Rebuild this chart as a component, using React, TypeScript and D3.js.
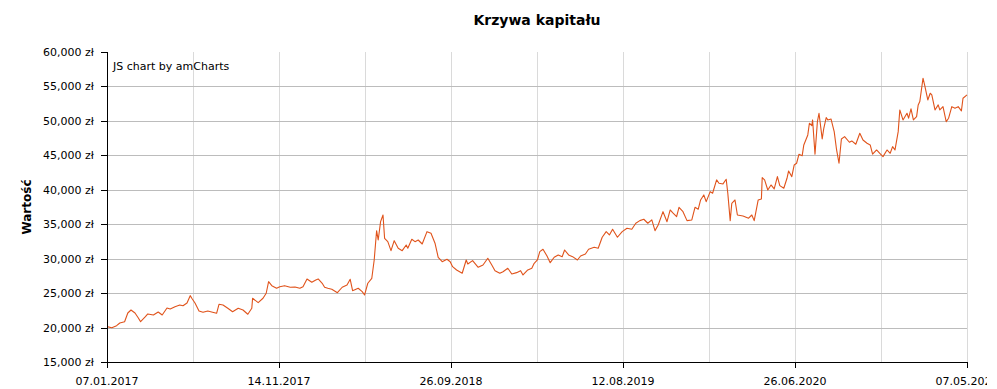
import React from "react";
import * as d3 from "d3";

const title = "Krzywa kapitału";
const yAxisTitle = "Wartość";
const credit = "JS chart by amCharts";

const xTickLabels = ["07.01.2017", "14.11.2017", "26.09.2018", "12.08.2019", "26.06.2020", "07.05.2021"];
const xTickSessions = [0, 215, 430, 645, 860, 1075];
const xGridSessions = [107.5, 215, 322.5, 430, 537.5, 645, 752.5, 860, 967.5, 1075];
const yTicks = [15000, 20000, 25000, 30000, 35000, 40000, 45000, 50000, 55000, 60000];

const sessions = [
  0, 6, 12, 16, 22, 26, 30, 35, 39, 42, 48, 51, 58, 64, 69, 75, 79, 85, 91, 95,
  100, 104, 106, 110, 115, 120, 126, 132, 137, 140, 145, 151, 157, 164, 170, 176, 181, 182, 189, 195,
  199, 202, 206, 212, 216, 222, 229, 235, 241, 245, 250, 256, 261,
  264, 269, 272, 276, 281, 288, 294, 300, 304, 307, 314, 319, 322, 326, 331, 334, 337, 339, 342, 345,
  347, 351, 355, 359, 364, 369, 374, 376, 381, 385, 389, 394, 400, 405, 410, 414, 419, 425, 429, 432,
  437, 444, 449, 451, 457, 464, 470, 476, 481, 485, 491, 495, 501, 506, 512, 517, 520, 526, 531, 534,
  538, 541, 545, 550, 554, 559, 564, 569, 572, 577, 582, 588, 592, 598, 602, 609, 614, 619, 624, 628,
  632, 638, 644, 650, 656, 661, 666, 671, 676, 681, 685, 689, 695, 700, 704, 707, 712, 715, 720, 725,
  731, 735, 739, 742, 746, 749, 754, 757, 762, 765, 770, 774, 776, 779, 781, 785, 788, 795, 802,
  806, 809, 814, 818, 819, 822, 826, 830, 834, 838, 841, 846, 850, 852, 856, 859, 862, 865, 869, 871,
  876, 878, 881, 882, 885, 888, 890, 894, 896, 899, 901, 905, 909, 912, 915, 918, 922, 928, 931, 936,
  941, 945, 950, 954, 957, 962, 966, 970, 975, 979, 982, 985, 989, 991, 995, 1000, 1002, 1005, 1008, 1012,
  1014, 1016, 1020, 1022, 1026, 1029, 1031, 1035, 1039, 1041, 1045, 1049, 1052, 1056, 1060, 1064, 1068, 1070, 1075,
];

const equity = [
  20130, 19980, 20270, 20660, 20850, 22110, 22550, 22110, 21430, 20850, 21580, 21970, 21820, 22260, 21820, 22840, 22700, 23030, 23280, 23170,
  23570, 24630, 24250, 23570, 22400, 22220, 22400, 22220, 22070, 23380, 23280, 22800, 22300, 22800, 22550, 21930, 22800, 24250, 23610, 24250,
  24980, 26660, 26080, 25700, 25930, 26080, 25850, 25890, 25700, 25930, 27050, 26570, 26910,
  27050, 26430, 25850, 25700, 25560, 25060, 25850, 26180, 27010, 25350, 25700, 25210, 24730, 26430, 27150, 29810, 34060, 32710, 35370, 36340,
  32960, 32470, 31160, 32610, 31510, 31160, 31990, 31510, 32820, 32470, 32710, 32130, 33920, 33690, 32240, 30200, 29560, 29910, 29560, 28840,
  28360, 27880, 29810, 29230, 29710, 28750, 29080, 30060, 29080, 28260, 27880, 28110, 28610, 27780, 27970, 28260, 27630, 28360, 28610, 29330,
  29810, 31020, 31360, 30390, 29420, 30200, 30540, 30290, 31260, 30540, 30290, 29810, 30390, 30680, 31360, 31650, 31510, 33110, 33920, 33440,
  34270, 33110, 33920, 34410, 34270, 35140, 35520, 35720, 35140, 35620, 34070, 34890, 36820, 35370, 37070, 36680, 36100, 37460, 36820, 35520,
  35620, 37460, 37170, 38520, 39250, 38280, 39730, 39500, 41430, 40950, 40850, 41530, 39500, 35520, 38040, 38520, 36340, 36200, 35870,
  36340, 35520, 38520, 38670, 41760, 41430, 39970, 40700, 40120, 41910, 40600, 40220, 41670, 42730, 41910, 43600, 43850, 45160, 44950, 46510,
  47960, 49660, 49310, 50140, 45160, 49890, 51110, 47380, 48930, 50470, 50140, 50280, 48440, 45780, 43850, 47380, 47710, 46900, 47090, 46610,
  48210, 47230, 46760, 46510, 45160, 45780, 45300, 44810, 45780, 45300, 46260, 45780, 48440, 51590, 50140, 51110, 50390, 51740, 50140, 50620,
  52320, 52800, 56190, 55220, 53040, 54020, 53770, 51590, 52320, 51590, 52070, 49890, 50390, 52070, 51840, 52070, 51450, 53290, 53770,
];

const W = 987;
const H = 389;
const plot = { left: 107, right: 967, top: 52, bottom: 362 };
const font = "Verdana, 'DejaVu Sans', sans-serif";

export default function App() {
  const x = d3.scaleLinear().domain([0, 1075]).range([plot.left, plot.right]);
  const y = d3.scaleLinear().domain([15000, 60000]).range([plot.bottom, plot.top]);
  const pts: [number, number][] = sessions.map((s, i) => [s, equity[i]]);
  const path = d3
    .line<[number, number]>()
    .x((d) => x(d[0]))
    .y((d) => y(d[1]))(pts) as string;
  const fmt = d3.format(",");

  return (
    <svg
      width={W}
      height={H}
      style={{ position: "absolute", left: 0, top: 0, overflow: "hidden", background: "#fff" }}
      fontFamily={font}
    >
      <rect x={0} y={0} width={W} height={H} fill="#fff" />
      {xGridSessions.map((s) => (
        <line
          key={"vg" + s}
          x1={Math.round(x(s)) + 0.5}
          x2={Math.round(x(s)) + 0.5}
          y1={plot.top}
          y2={plot.bottom}
          stroke="#dadada"
          strokeWidth={1}
        />
      ))}
      {yTicks.slice(1, -1).map((v) => (
        <line
          key={"hg" + v}
          x1={plot.left}
          x2={plot.right}
          y1={Math.round(y(v)) + 0.5}
          y2={Math.round(y(v)) + 0.5}
          stroke="#bcbcbc"
          strokeWidth={1}
        />
      ))}
      <text x={113} y={70} fontSize={11} fill="#000">
        {credit}
      </text>
      <path d={path} fill="none" stroke="#e0531b" strokeWidth={1.1} strokeLinejoin="round" />
      <line x1={plot.left + 0.5} x2={plot.left + 0.5} y1={plot.top} y2={plot.bottom + 0.5} stroke="#000" />
      <line x1={plot.left} x2={plot.right + 0.5} y1={plot.bottom + 0.5} y2={plot.bottom + 0.5} stroke="#000" />
      {yTicks.map((v) => (
        <g key={"yt" + v}>
          <line
            x1={plot.left - 6}
            x2={plot.left}
            y1={Math.round(y(v)) + 0.5}
            y2={Math.round(y(v)) + 0.5}
            stroke="#000"
          />
          <text x={plot.left - 13} y={y(v) + 4} fontSize={11} textAnchor="end" fill="#000">
            {fmt(v) + " zł"}
          </text>
        </g>
      ))}
      {xTickSessions.map((s, i) => (
        <g key={"xt" + s}>
          <line
            x1={Math.round(x(s)) + 0.5}
            x2={Math.round(x(s)) + 0.5}
            y1={plot.bottom}
            y2={plot.bottom + 6}
            stroke="#000"
          />
          <text x={x(s)} y={385} fontSize={11} textAnchor="middle" fill="#000">
            {xTickLabels[i]}
          </text>
        </g>
      ))}
      <text
        transform={`translate(31,${(plot.top + plot.bottom) / 2}) rotate(-90)`}
        fontSize={12}
        fontWeight="bold"
        textAnchor="middle"
        fill="#000"
      >
        {yAxisTitle}
      </text>
      <text x={537} y={25} fontSize={14} fontWeight="bold" textAnchor="middle" fill="#000">
        {title}
      </text>
    </svg>
  );
}
